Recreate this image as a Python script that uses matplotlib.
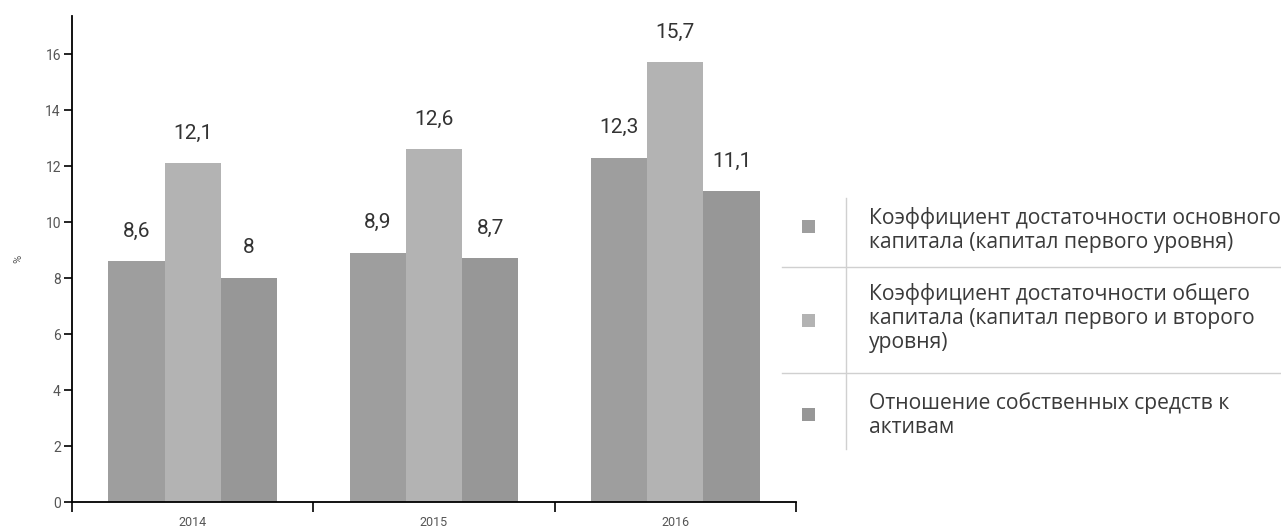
import matplotlib
matplotlib.use("Agg")
import matplotlib.pyplot as plt
import numpy as np
from matplotlib.lines import Line2D
from matplotlib.patches import Rectangle

plt.rcParams['font.family'] = ['Roboto', 'DejaVu Sans']

years = ['2014', '2015', '2016']
tier1 = [8.6, 8.9, 12.3]
total = [12.1, 12.6, 15.7]
equity = [8.0, 8.7, 11.1]
series_labels = [
    'Коэффициент достаточности основного\nкапитала (капитал первого уровня)',
    'Коэффициент достаточности общего\nкапитала (капитал первого и второго\nуровня)',
    'Отношение собственных средств к\nактивам',
]
colors = ['#9e9e9e', '#b3b3b3', '#979797']
text_color = '#333333'

W, H = 1281, 528
fig = plt.figure(figsize=(W / 100, H / 100), dpi=100)
ax = fig.add_axes([72 / W, 1 - 502 / H, (796 - 72) / W, (502 - 16) / H])

x = np.arange(len(years))
width = 0.233
for i, vals in enumerate([tier1, total, equity]):
    pos = x + (i - 1) * width
    ax.bar(pos, vals, width=width, color=colors[i], linewidth=0)
    for px, v in zip(pos, vals):
        lbl = f'{v:g}'.replace('.', ',')
        ax.annotate(lbl, (px, v), xytext=(0, 15), textcoords='offset points',
                    ha='center', va='bottom', fontsize=15, color=text_color)

ax.set_xlim(-0.5, len(years) - 0.5)
ax.set_ylim(0, 17.36)
ax.set_yticks(range(0, 17, 2))
ax.set_xticks(x)
ax.set_xticklabels(years)
ax.set_xticks(np.arange(-0.5, len(years), 1.0), minor=True)
ax.tick_params(axis='x', which='major', length=0, labelsize=9, pad=10, colors='#555555')
ax.tick_params(axis='x', which='minor', length=7, width=1.2, color='black')
ax.tick_params(axis='y', length=6, width=1.2, labelsize=10, pad=2, labelcolor='#555555')
for s in ['top', 'right']:
    ax.spines[s].set_visible(False)
for s in ['left', 'bottom']:
    ax.spines[s].set_linewidth(1.3)
ax.set_ylabel('%', fontsize=8, color='#555555', labelpad=16)

# legend drawn as a small table
def fx(px): return px / W
def fy(py): return 1 - py / H

fig.add_artist(Line2D([fx(846), fx(846)], [fy(198), fy(449)], color='#d0d0d0', lw=1))
for yy in [267, 373]:
    fig.add_artist(Line2D([fx(782), fx(1281)], [fy(yy), fy(yy)], color='#d0d0d0', lw=1))

marker_y = [226, 320, 414]
text_y = [230, 318, 415]
texts = []
for lbl, c, my, ty in zip(series_labels, colors, marker_y, text_y):
    fig.add_artist(Rectangle((fx(802), fy(my + 6.5)), 13 / W, 13 / H, color=c, lw=0))
    texts.append(fig.text(fx(869), fy(ty), lbl, ha='left', va='center', fontsize=12,
                          family=['Open Sans', 'DejaVu Sans'],
                          color='#3a3a3a', linespacing=1.18))

# fit legend font so the widest line spans the same width as in the source
r = fig.canvas.get_renderer()
wpx = texts[0].get_window_extent(r).width
for t in texts:
    t.set_fontsize(12 * 410 / wpx)

fig.savefig('out.png', dpi=100)
